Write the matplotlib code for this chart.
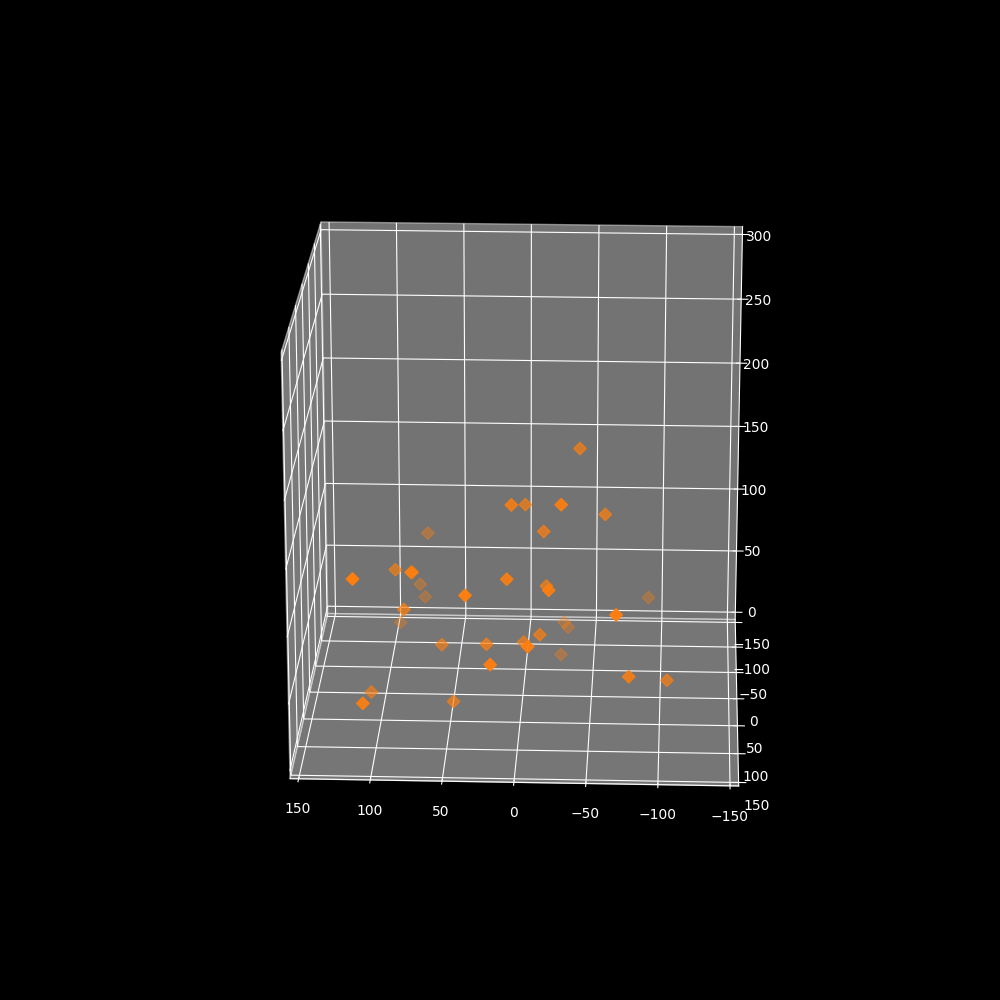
import matplotlib
matplotlib.use("Agg")
import matplotlib.pyplot as plt

# values
xs = [-40, 7, -1, -29, -59, -15, 75, 93, 84, 76, 115, 9, 81, -17, -21, 78, 37, -90, 85, 96,
      -69, -27, -30, -13, -1, -7, 59, 25, -25, 19, -78, -105, 110, 109, 49]
ys = [-30, 30, -20, 50, -10, 0, -100, -10, -60, 70, 100, 60, -100, 0, 70, -110, 90, -110, 20, -100,
      90, -100, -100, 20, 10, 90, 0, 30, -90, 100, 70, 20, 10, 100, 30]
zs = [175, 153, 135, 161, 132, 122, 82, 87, 66, 116, 122, 108, 41, 80, 104, 27, 107, 29, 68, 10,
      94, 12, 8, 50, 40, 69, 33, 46, -10, 59, 39, 16, -1, 28, 1]
ticks_xy = [-150, -100, -50, 0, 50, 100, 150]
ticks_z = [0, 50, 100, 150, 200, 250, 300]

plt.style.use("dark_background")

fig = plt.figure(figsize=(10, 10), dpi=100)
ax = fig.add_subplot(projection="3d")
ax.scatter(xs, ys, zs, marker="D", color="#ff7f0e", s=40)
ax.set_xlim(-156, 156)
ax.set_ylim(-156, 156)
ax.set_zlim(-6, 306)
ax.set_xticks(ticks_xy)
ax.set_yticks(ticks_xy)
ax.set_zticks(ticks_z)
ax.set_box_aspect((1, 1, 1), zoom=0.95)
ax.view_init(elev=20, azim=92.3)
plt.savefig("out.png")
